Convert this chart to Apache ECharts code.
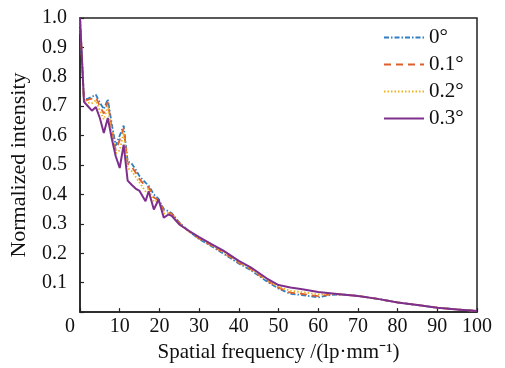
<!DOCTYPE html>
<html><head><meta charset="utf-8">
<script src="https://cdn.jsdelivr.net/npm/echarts@6/dist/echarts.min.js"></script>
<style>html,body{margin:0;padding:0;background:#fff}#c{width:505px;height:368px}</style>
</head><body><div id="c"></div>
<script>
var freq = [0,1,2,3,4,5,6,7,8,9,10,11,12,13,14,15,16.5,17.3,18.6,19.8,21.1,22.3,23.2,25,27,30,33,36,40,43,47,50,53,56,60,63,66,70,75,80,85,90,95,100];
var deg0  = [1.0,0.722,0.726,0.732,0.739,0.712,0.69,0.724,0.64,0.566,0.60,0.634,0.513,0.505,0.485,0.462,0.44,0.43,0.40,0.385,0.35,0.343,0.335,0.305,0.28,0.248,0.225,0.2,0.165,0.143,0.105,0.08,0.062,0.058,0.05,0.058,0.06,0.055,0.045,0.033,0.024,0.015,0.009,0.004];
var deg01 = [1.0,0.72,0.722,0.726,0.73,0.70,0.675,0.715,0.625,0.55,0.585,0.625,0.505,0.495,0.475,0.452,0.428,0.425,0.39,0.38,0.345,0.34,0.333,0.303,0.279,0.25,0.227,0.203,0.168,0.146,0.108,0.083,0.066,0.062,0.054,0.06,0.06,0.055,0.045,0.033,0.024,0.015,0.009,0.004];
var deg02 = [1.0,0.718,0.712,0.71,0.72,0.685,0.655,0.70,0.61,0.54,0.55,0.61,0.49,0.48,0.46,0.44,0.41,0.42,0.375,0.38,0.335,0.337,0.33,0.30,0.279,0.252,0.229,0.206,0.17,0.148,0.11,0.086,0.072,0.068,0.06,0.062,0.06,0.055,0.045,0.033,0.024,0.015,0.009,0.004];
var deg03 = [1.0,0.715,0.70,0.685,0.697,0.66,0.609,0.66,0.59,0.53,0.49,0.569,0.447,0.433,0.42,0.412,0.377,0.411,0.349,0.383,0.321,0.332,0.326,0.298,0.28,0.255,0.232,0.21,0.174,0.152,0.115,0.092,0.084,0.078,0.068,0.064,0.06,0.055,0.045,0.033,0.024,0.015,0.009,0.004];
var seriesNames = ['0°','0.1°','0.2°','0.3°'];
var xTicks = [0,10,20,30,40,50,60,70,80,90,100];
var yTicks = [0.1,0.2,0.3,0.4,0.5,0.6,0.7,0.8,0.9,1.0];

var FONT = 'Liberation Serif';
function zip(v){ return freq.map(function(f,i){ return [f, v[i]]; }); }
var colors = ['#2F7DC2','#DE5F2E','#EDB120','#7E2F8E'];
var dashes = [[5,2,1.5,2],[7,5],[1.5,2],'solid'];
var widths = [1.8,1.8,1.8,2];
var vals = [deg0,deg01,deg02,deg03];

var chart = echarts.init(document.getElementById('c'), null, {renderer:'canvas'});
chart.setOption({
  animation:false,
  backgroundColor:'#fff',
  grid:{left:80,right:28,top:18,bottom:55,show:true,borderColor:'#222',borderWidth:1.5,containLabel:false},
  legend:{
    orient:'vertical', left:378, top:22, itemWidth:40, itemHeight:14, itemGap:6,
    textStyle:{fontFamily:FONT,fontSize:21,color:'#111'},
    itemStyle:{opacity:0, borderWidth:0},
    data:seriesNames.slice()
  },
  xAxis:{
    type:'value', min:0, max:100, interval:10,
    name:'Spatial frequency /(lp·mm⁻¹)', nameLocation:'middle', nameGap:28,
    nameTextStyle:{fontFamily:FONT,fontSize:21,color:'#111'},
    axisLine:{lineStyle:{color:'#222',width:1.5}},
    axisTick:{inside:true,length:4,lineStyle:{color:'#222',width:1.2}},
    splitLine:{show:false},
    axisLabel:{
      margin:5, fontFamily:FONT, fontSize:20, color:'#111',
      formatter:function(v){ return v===0 ? '{z|0}' : String(v); },
      rich:{z:{fontFamily:FONT,fontSize:20,color:'#111',padding:[0,20,0,0]}}
    }
  },
  yAxis:{
    type:'value', min:0, max:1, interval:0.1,
    name:'Normalized intensity', nameLocation:'middle', nameGap:50,
    nameTextStyle:{fontFamily:FONT,fontSize:22,color:'#111'},
    axisLine:{lineStyle:{color:'#222',width:1.5}},
    axisTick:{inside:true,length:4,lineStyle:{color:'#222',width:1.2}},
    splitLine:{show:false},
    axisLabel:{
      margin:13, fontFamily:FONT, fontSize:20, color:'#111',
      formatter:function(v){ return yTicks.indexOf(+v.toFixed(1))>=0 ? v.toFixed(1) : ''; }
    }
  },
  series: seriesNames.map(function(n,i){
    return {
      name:n, type:'line', showSymbol:false, symbol:'none', smooth:false,
      data: zip(vals[i]),
      itemStyle:{color:colors[i]},
      lineStyle:{color:colors[i], width:widths[i], type:dashes[i]},
      z: 2+i
    };
  })
});
</script></body></html>
